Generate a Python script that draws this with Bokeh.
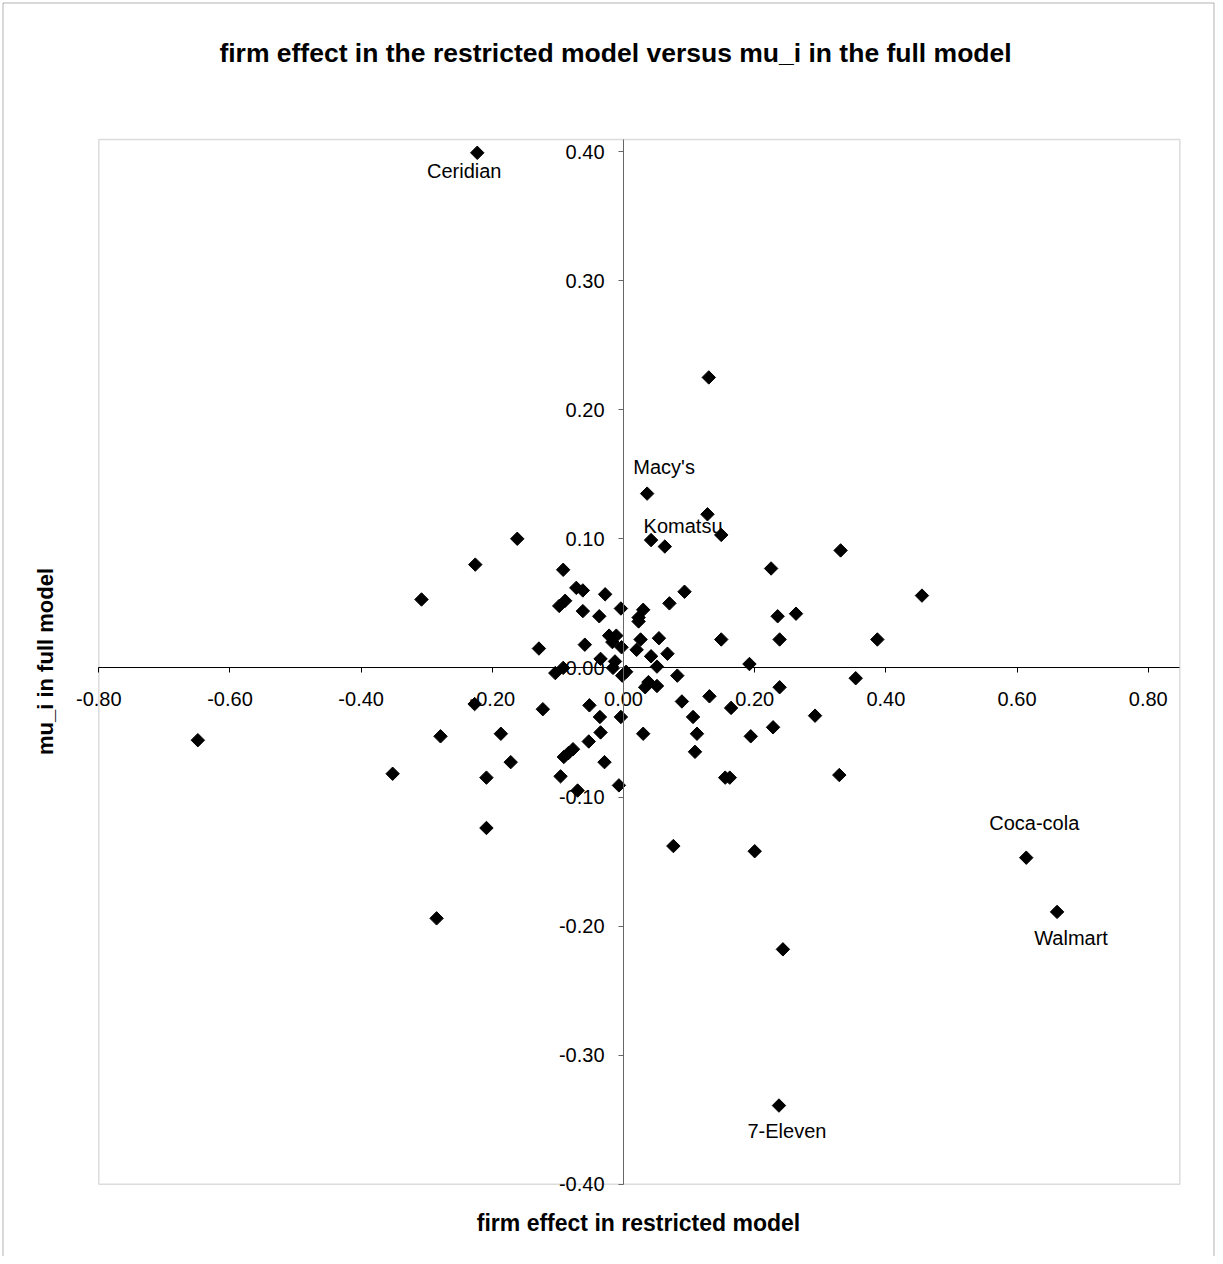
import numpy as np
from bokeh.plotting import figure
from bokeh.models import (Range1d, FixedTicker, NumeralTickFormatter, Label,
                          BoxAnnotation, ColumnDataSource)
from bokeh.core.properties import value
from bokeh.embed import file_html
from bokeh.resources import INLINE

# ---------------- data ----------------
firm_effect = [
    -0.223, 0.130, 0.036, 0.128, 0.149, 0.042, 0.063, 0.331, -0.162, -0.226,
    0.225, -0.092, -0.072, -0.062, 0.093, -0.028, 0.455, -0.308, -0.089, 0.070,
    -0.098, -0.004, 0.030, -0.062, 0.263, -0.037, 0.235, 0.023, 0.023, -0.022,
    -0.011, 0.054, 0.149, 0.238, 0.387, 0.026, -0.017, -0.059, -0.003, -0.129,
    0.020, 0.067, 0.042, -0.035, -0.013, 0.192, 0.051, -0.016, -0.092, 0.004,
    -0.104, -0.002, 0.082, 0.354, 0.038, 0.051, 0.033, 0.238, 0.131, 0.089,
    -0.227, -0.052, 0.164, -0.123, 0.292, 0.106, -0.036, -0.004, 0.228, -0.035,
    -0.187, 0.030, 0.112, -0.279, 0.194, -0.649, -0.053, -0.077, 0.109, -0.084,
    -0.091, -0.172, -0.029, -0.352, 0.329, -0.096, -0.209, 0.155, 0.162, -0.007,
    -0.070, -0.209, 0.076, 0.200, 0.614, 0.661, -0.285, 0.243, 0.237,
]
mu_i = [
    0.399, 0.225, 0.135, 0.119, 0.103, 0.099, 0.094, 0.091, 0.100, 0.080,
    0.077, 0.076, 0.062, 0.060, 0.059, 0.057, 0.056, 0.053, 0.052, 0.050,
    0.048, 0.046, 0.045, 0.044, 0.042, 0.040, 0.040, 0.039, 0.036, 0.025,
    0.025, 0.023, 0.022, 0.022, 0.022, 0.022, 0.020, 0.018, 0.016, 0.015,
    0.014, 0.011, 0.009, 0.007, 0.005, 0.003, 0.001, 0.000, 0.000, -0.003,
    -0.004, -0.006, -0.006, -0.008, -0.011, -0.014, -0.015, -0.015, -0.022, -0.026,
    -0.028, -0.029, -0.031, -0.032, -0.037, -0.038, -0.038, -0.038, -0.046, -0.050,
    -0.051, -0.051, -0.051, -0.053, -0.053, -0.056, -0.057, -0.063, -0.065, -0.066,
    -0.069, -0.073, -0.073, -0.082, -0.083, -0.084, -0.085, -0.085, -0.085, -0.091,
    -0.095, -0.124, -0.138, -0.142, -0.147, -0.189, -0.194, -0.218, -0.339,
]

label_names = ["Ceridian", "Macy's", "Komatsu", "Coca-cola", "Walmart", "7-Eleven"]
label_x = [-0.223, 0.036, 0.042, 0.614, 0.661, 0.237]
label_y = [0.399, 0.135, 0.099, -0.147, -0.189, -0.339]

x_ticks = [-0.8, -0.6, -0.4, -0.2, 0.0, 0.2, 0.4, 0.6, 0.8]
y_ticks = [-0.4, -0.3, -0.2, -0.1, 0.0, 0.1, 0.2, 0.3, 0.4]

title_text = "firm effect in the restricted model versus mu_i in the full model"
x_title = "firm effect in restricted model"
y_title = "mu_i in full model"

# ---------------- layout (pixels) ----------------
W, H = 1215, 1256
PX_X = 655.9           # pixels per x unit
PX_Y = 1291.0          # pixels per y unit
x_start = -0.8 - 98.3 / PX_X
x_end = x_start + W / PX_X
y_end = 0.4 + 151.0 / PX_Y
y_start = y_end - H / PX_Y


def fx(px):
    return x_start + px / PX_X


def fy(py):
    return y_end - py / PX_Y


area_left, area_right = -0.8, fx(1179.3)
area_bottom, area_top = -0.4, fy(139.0)

FONT = "Liberation Sans"

p = figure(width=W, height=H, x_range=Range1d(x_start, x_end),
           y_range=Range1d(y_start, y_end), output_backend="svg",
           toolbar_location=None, title=None, min_border=0)
p.min_border_left = p.min_border_right = p.min_border_top = p.min_border_bottom = 0
p.outline_line_color = None
p.grid.visible = False
p.background_fill_color = "white"
p.border_fill_color = "white"

# axes crossing at zero
for ax in (p.xaxis, p.yaxis):
    ax.fixed_location = 0
    ax.formatter = NumeralTickFormatter(format="0.00")
    ax.major_tick_in = 0
    ax.major_tick_out = 5
    ax.minor_tick_line_color = None
    ax.major_label_text_font = FONT
    ax.major_label_text_font_size = "20px"
    ax.major_label_text_color = "black"
    ax.major_tick_line_color = "black"

p.xaxis.ticker = FixedTicker(ticks=x_ticks)
p.yaxis.ticker = FixedTicker(ticks=y_ticks)
p.xaxis.bounds = (area_left, area_right)
p.yaxis.bounds = (area_bottom, area_top)
p.xaxis.axis_line_color = "black"
p.yaxis.axis_line_color = "#666666"
p.yaxis.major_tick_line_color = "#666666"
p.xaxis.major_label_standoff = 19
p.yaxis.major_label_standoff = 14

# plot-area border
p.add_layout(BoxAnnotation(left=area_left, right=area_right, bottom=area_bottom,
                           top=area_top, fill_color=None, fill_alpha=0,
                           line_color="#8c8c8c", line_width=1.5, level="underlay"))
# chart border
p.add_layout(BoxAnnotation(left=fx(2.5), right=fx(1213.5), bottom=y_start - 0.1,
                           top=fy(2.5), fill_color=None, fill_alpha=0,
                           line_color="black", line_width=1, level="underlay"))

src = ColumnDataSource(dict(x=firm_effect, y=mu_i))
p.scatter("x", "y", source=src, marker="square", angle=np.pi / 4, size=9.5,
          fill_color="black", line_color="black")

label_dx = [-13, 17, 32, 8, 14, 8]
label_dy = [18, -27, -14, -35, 26, 25]
lsrc = ColumnDataSource(dict(x=label_x, y=label_y, t=label_names,
                             dx=label_dx, dy=label_dy))
p.text("x", "y", text="t", source=lsrc, x_offset="dx", y_offset="dy",
       text_font=value(FONT), text_font_size="20px", text_color="black",
       text_align="center", text_baseline="middle")

p.add_layout(Label(x=fx(615), y=fy(52), text=title_text, text_font=FONT,
                   text_font_size="26.5px", text_font_style="bold",
                   text_color="black",
                   text_align="center", text_baseline="middle"))
p.add_layout(Label(x=fx(638), y=fy(1222), text=x_title, text_font=FONT,
                   text_font_size="23px", text_font_style="bold",
                   text_color="black",
                   text_align="center", text_baseline="middle"))
p.add_layout(Label(x=fx(45), y=fy(661), text=y_title, text_font=FONT,
                   text_font_size="22px", text_font_style="bold",
                   text_color="black",
                   text_align="center", text_baseline="middle", angle=np.pi / 2))

open("out.html", "w").write(file_html(p, INLINE))
